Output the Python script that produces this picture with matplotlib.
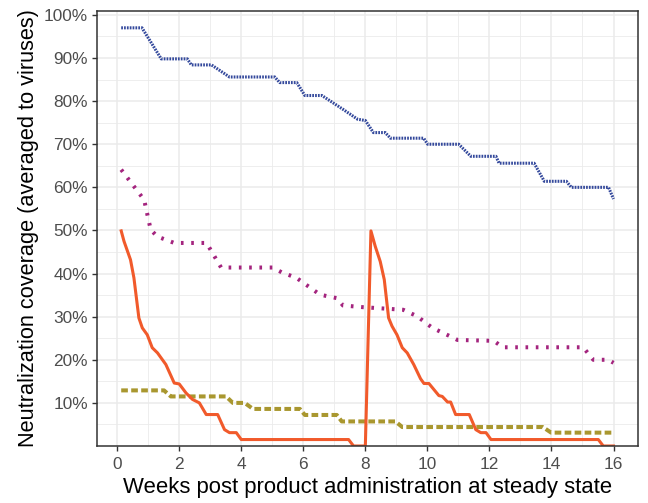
import matplotlib
matplotlib.use("Agg")
import matplotlib.pyplot as plt
import numpy as np

plt.rcParams['font.family'] = ['Liberation Sans', 'DejaVu Sans']
plt.rcParams['lines.scale_dashes'] = False

# coverage curves, weeks vs. fraction of viruses neutralised
weeks_a = [0.13, 0.80, 1.42, 2.26, 2.39, 3.04, 3.62, 5.08, 5.24, 5.79, 6.05, 6.60,
           7.30, 7.75, 8.00, 8.26, 8.64, 8.81, 9.88, 10.01, 11.01, 11.40, 12.21,
           12.31, 13.44, 13.77, 14.48, 14.64, 15.84, 16.00]
cov_a = [97.0, 97.0, 89.8, 89.8, 88.4, 88.4, 85.6, 85.6, 84.3, 84.3, 81.3, 81.3,
         78.0, 75.8, 75.5, 72.7, 72.7, 71.4, 71.4, 70.0, 70.0, 67.2, 67.2,
         65.6, 65.6, 61.4, 61.4, 60.0, 60.0, 57.3]

weeks_b = [0.13, 0.87, 1.08, 1.29, 1.84, 2.88, 3.35, 5.01, 5.30, 5.78, 6.54, 7.08,
           7.28, 7.93, 9.22, 9.67, 10.16, 10.69, 10.97, 12.14, 12.43, 15.02, 15.35,
           15.83, 16.00]
cov_b = [64.1, 57.1, 50.2, 48.6, 47.1, 47.1, 41.4, 41.4, 40.3, 39.0, 35.1, 34.3,
         32.6, 32.2, 31.6, 30.1, 27.4, 25.6, 24.6, 24.4, 22.9, 22.9, 20.0,
         20.0, 19.3]

weeks_c = [0.13, 1.51, 1.73, 3.51, 3.73, 4.11, 4.38, 5.89, 6.05, 7.08, 7.24, 8.97,
           9.19, 13.72, 13.99, 16.00]
cov_c = [12.9, 12.9, 11.5, 11.5, 10.0, 10.0, 8.6, 8.6, 7.2, 7.2, 5.7, 5.7,
         4.4, 4.4, 3.1, 3.1]

weeks_d = [0.13, 0.22, 0.43, 0.54, 0.70, 0.81, 0.97, 1.13, 1.30, 1.57, 1.84, 2.00,
           2.22, 2.43, 2.65, 2.87, 3.24, 3.46, 3.62, 3.84, 4.00, 7.46, 7.62, 8.00,
           8.18, 8.32, 8.48, 8.61, 8.75, 8.86, 9.02, 9.19, 9.35, 9.56, 9.78, 9.89,
           10.05, 10.37, 10.48, 10.65, 10.75, 10.91, 11.35, 11.56, 11.72, 11.89,
           12.05, 15.51, 15.67, 16.00]
cov_d = [49.9, 47.5, 43.2, 39.0, 29.7, 27.4, 25.8, 22.8, 21.6, 18.9, 14.6, 14.4,
         12.3, 10.8, 10.0, 7.3, 7.3, 3.8, 3.1, 3.1, 1.5, 1.5, 0.0, 0.0,
         49.9, 46.3, 42.8, 38.6, 29.7, 27.8, 25.8, 22.8, 21.6, 18.9, 15.6, 14.5,
         14.5, 11.7, 11.5, 10.2, 10.2, 7.3, 7.3, 3.8, 3.1, 3.1,
         1.5, 1.5, 0.0, 0.0]

fig = plt.figure(figsize=(6.48, 5.03), dpi=100)
ax = fig.add_axes([0.1497, 0.1133, 0.8349, 0.8648])

ax.plot(weeks_a, np.array(cov_a) / 100, color='#34499c', lw=2.2,
        dashes=(1.25, 0.8), dash_capstyle='butt')
ax.plot(weeks_b, np.array(cov_b) / 100, color='#a4247e', lw=2.9,
        dashes=(1.9, 5.5), dash_capstyle='butt')
ax.plot(weeks_c, np.array(cov_c) / 100, color='#a9972f', lw=2.9,
        dashes=(4.8, 2.4), dash_capstyle='butt')
ax.plot(weeks_d, np.array(cov_d) / 100, color='#f15a2b', lw=2.2,
        solid_joinstyle='round')

ax.set_xlim(-0.65, 16.79)
ax.set_ylim(0, 1.009)
ax.set_xticks(np.arange(0, 17, 2))
ax.set_xticks(np.arange(1, 16, 2), minor=True)
ax.set_yticks(np.arange(0.1, 1.01, 0.1))
ax.set_yticks(np.arange(0.05, 1.0, 0.1), minor=True)
ax.set_yticklabels([f'{int(round(v * 100))}%' for v in np.arange(0.1, 1.01, 0.1)])

ax.grid(which='major', color='#ebebeb', lw=1.1)
ax.grid(which='minor', color='#ebebeb', lw=0.6)
ax.set_axisbelow(True)

for s in ax.spines.values():
    s.set_color('#333333')
    s.set_linewidth(1.1)

ax.tick_params(which='major', length=3.6, width=1.0, color='#333333',
               labelcolor='#4d4d4d', labelsize=12.4)
ax.tick_params(axis='x', pad=4.5)
ax.tick_params(axis='y', pad=3)
ax.tick_params(which='minor', length=0)

ax.set_xlabel('Weeks post product administration at steady state',
              fontsize=15.9, color='black', labelpad=3.5)
ax.set_ylabel('Neutralization coverage (averaged to viruses)',
              fontsize=15.7, color='black', labelpad=3.5)

fig.savefig('out.png', dpi=100)
